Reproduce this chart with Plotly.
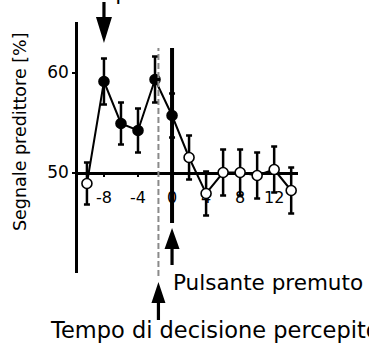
import plotly.graph_objects as go

# ---- data ----
time_s = [-10, -8, -6, -4, -2, 0, 2, 4, 6, 8, 10, 12, 14]
signal_pct = [48.9, 59.1, 54.9, 54.2, 59.3, 55.7, 51.5, 47.9, 50.0, 50.0, 49.7, 50.3, 48.2]
signal_err = [2.1, 2.3, 2.1, 2.2, 2.3, 2.2, 2.2, 2.2, 2.3, 2.3, 2.3, 2.3, 2.3]
significant = [False, True, True, True, True, True, False, False, False, False, False, False, False]

x_tick_vals = [-8, -4, 0, 4, 8, 12]
x_tick_text = ["-8", "-4", "0", "4", "8", "12"]
y_tick_vals = [50, 60]

x_range = [-11.05, 14.8]
y_range = [39.95, 65.05]
baseline = 50

decision_time = -1.6      # perceived decision time (dashed line)
button_time = 0           # button press
onset_time = -8           # decision process onset

FONT = "DejaVu Sans"

# plot area in pixels (for placing decorations)
W, H = 369, 343
ML, MR, MT, MB = 78, 71, 22, 70
PW, PH = W - ML - MR, H - MT - MB


def px_to_paper_y(py):
    return (H - MB - py) / PH


def px_to_paper_x(px):
    return (px - ML) / PW


def arrow_path(head_len, head_half, total_len, shaft_half, up=True):
    s = -1 if up else 1
    pts = [(0, 0), (head_half, s * head_len), (shaft_half, s * head_len),
           (shaft_half, s * total_len), (-shaft_half, s * total_len),
           (-shaft_half, s * head_len), (-head_half, s * head_len)]
    return "M" + " L".join(f"{x},{y}" for x, y in pts) + " Z"


fig = go.Figure()
fig.add_trace(go.Scatter(
    x=time_s, y=signal_pct,
    mode="lines+markers",
    line=dict(color="black", width=2),
    marker=dict(size=10,
                color=["black" if s else "white" for s in significant],
                line=dict(color="black", width=1.6)),
    error_y=dict(type="data", array=signal_err, visible=True,
                 color="black", thickness=2.5, width=3),
    cliponaxis=False,
    showlegend=False,
))

shapes = [
    # dashed perceived-decision line
    dict(type="line", xref="x", yref="paper",
         x0=decision_time, x1=decision_time,
         y0=px_to_paper_y(276), y1=px_to_paper_y(48),
         line=dict(color="#8a8a8a", width=2, dash="6px,3px")),
    # thick button-press line
    dict(type="line", xref="x", yref="paper",
         x0=button_time, x1=button_time,
         y0=px_to_paper_y(223), y1=px_to_paper_y(48),
         line=dict(color="black", width=4)),
    # arrows
    dict(type="path", xref="x", yref="paper", xsizemode="pixel", ysizemode="pixel",
         xanchor=onset_time, yanchor=px_to_paper_y(43),
         path=arrow_path(26, 8, 41, 1.6, up=False),
         fillcolor="black", line=dict(width=0)),
    dict(type="path", xref="x", yref="paper", xsizemode="pixel", ysizemode="pixel",
         xanchor=button_time, yanchor=px_to_paper_y(228),
         path=arrow_path(21, 7.5, 37, 1.6, up=True),
         fillcolor="black", line=dict(width=0)),
    dict(type="path", xref="x", yref="paper", xsizemode="pixel", ysizemode="pixel",
         xanchor=decision_time, yanchor=px_to_paper_y(282),
         path=arrow_path(21, 7, 38, 1.6, up=True),
         fillcolor="black", line=dict(width=0)),
]

annotations = [
    dict(text="Segnale predittore [%]", xref="paper", yref="paper",
         x=px_to_paper_x(20), y=px_to_paper_y(132), textangle=-90,
         showarrow=False, xanchor="center", yanchor="middle",
         font=dict(family=FONT, size=17.5, color="black")),
    dict(text="Pulsante premuto", xref="paper", yref="paper",
         x=px_to_paper_x(171), y=px_to_paper_y(282),
         showarrow=False, xanchor="left", yanchor="middle",
         font=dict(family=FONT, size=21.5, color="black")),
    dict(text="Tempo di decisione percepito", xref="paper", yref="paper",
         x=px_to_paper_x(48), y=px_to_paper_y(330),
         showarrow=False, xanchor="left", yanchor="middle",
         font=dict(family=FONT, size=22.5, color="black")),
    dict(text="Inizio del processo di decisione", xref="paper", yref="paper",
         x=px_to_paper_x(181), y=px_to_paper_y(7),
         showarrow=False, xanchor="center", yanchor="bottom",
         font=dict(family=FONT, size=22, color="black")),
]

fig.update_layout(
    width=W, height=H,
    margin=dict(l=ML, r=MR, t=MT, b=MB, pad=0),
    paper_bgcolor="white", plot_bgcolor="white",
    font=dict(family=FONT, color="black"),
    shapes=shapes,
    annotations=annotations,
    xaxis=dict(range=x_range, showgrid=False, zeroline=False,
               showline=True, linecolor="black", linewidth=2.5,
               anchor="free",
               position=(baseline - y_range[0]) / (y_range[1] - y_range[0]),
               tickvals=x_tick_vals, ticktext=x_tick_text,
               ticks="outside", ticklen=3, tickwidth=2, tickcolor="black",
               tickfont=dict(family=FONT, size=16, color="black"),
               ticklabelstandoff=7,
               layer="below traces", fixedrange=True),
    yaxis=dict(range=y_range, showgrid=False, zeroline=False,
               showline=True, linecolor="black", linewidth=2.5,
               tickvals=y_tick_vals,
               ticks="outside", ticklen=3, tickwidth=2, tickcolor="black",
               tickfont=dict(family=FONT, size=17, color="black"),
               fixedrange=True),
)

fig.write_html("out.html", config={"displayModeBar": False},
               post_script="document.body.style.margin='0';")
